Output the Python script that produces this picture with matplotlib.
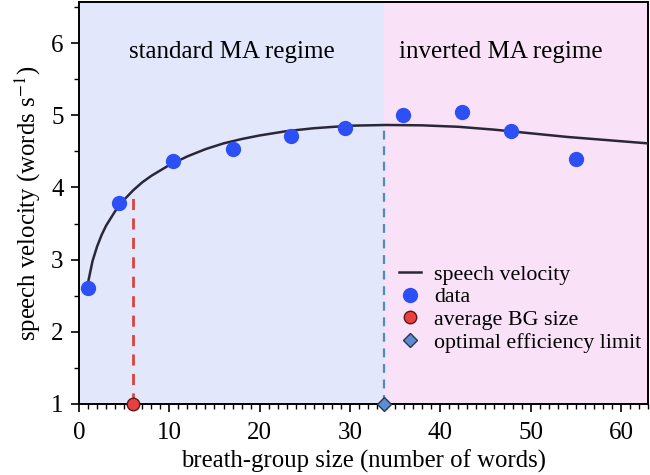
import matplotlib
matplotlib.use("Agg")
from matplotlib import pyplot as plt
from matplotlib.ticker import MultipleLocator
from matplotlib.lines import Line2D

plt.rcParams['font.family'] = ['Liberation Serif', 'DejaVu Serif']
plt.rcParams['mathtext.fontset'] = 'stix'

# measured data points
bg_size = [1.0, 4.4, 10.4, 17.0, 23.5, 29.4, 35.9, 42.4, 47.8, 55.0]
velocity = [2.61, 3.78, 4.37, 4.53, 4.71, 4.82, 5.00, 5.04, 4.78, 4.40]

# model curve
curve_x = [1.0, 1.5, 2.0, 2.5, 3.0, 4.0, 5.0, 6.0, 7.0, 8.0, 10, 12, 14, 16, 18,
           20, 23, 26, 30, 34, 38, 42, 46, 50, 54, 58, 63]
curve_y = [2.68, 2.98, 3.18, 3.34, 3.47, 3.67, 3.83, 3.96, 4.07, 4.16, 4.31, 4.43,
           4.53, 4.61, 4.67, 4.72, 4.78, 4.82, 4.855, 4.865, 4.86, 4.84, 4.80,
           4.75, 4.70, 4.66, 4.61]

avg_bg = 6.0
avg_bg_v = 3.96
opt_limit = 33.8
opt_limit_v = 4.865

x_max = 63
y_min, y_max = 1, 6.57

fig = plt.figure(figsize=(6.5, 4.75), dpi=100)
ax = fig.add_axes([0.1215, 0.1495, 0.997 - 0.1215, 0.996 - 0.1495])

# regime shading
ax.axvspan(0, opt_limit, color='#e3e7fb', zorder=0)
ax.axvspan(opt_limit, x_max, color='#f9e1f8', zorder=0)

ax.plot(curve_x, curve_y, color='#2a2838', lw=1.8, zorder=3)
ax.plot(bg_size, velocity, 'o', color='#2c50f6', ms=10, zorder=4)

ax.plot([avg_bg, avg_bg], [y_min, avg_bg_v], ls=(0, (4, 3)), color='#d9443c', lw=2, zorder=2)
ax.plot([opt_limit, opt_limit], [y_min, opt_limit_v], ls=(0, (4, 3)), color='#4a8cc8', lw=1.6, zorder=2)
ax.plot(avg_bg, y_min, 'o', color='#e8403f', mec='#5a1a1a', mew=1.0, ms=9, clip_on=False, zorder=5)
ax.plot(opt_limit, y_min, 'D', color='#5b8ed0', mec='#2a3550', mew=1.0, ms=7, clip_on=False, zorder=5)

ax.text(16.9, 5.88, 'standard MA regime', fontsize=18, ha='center', va='center')
ax.text(46.7, 5.88, 'inverted MA regime', fontsize=18, ha='center', va='center')

ax.set_xlim(0, x_max)
ax.set_ylim(y_min, y_max)
ax.xaxis.set_major_locator(MultipleLocator(10))
ax.xaxis.set_minor_locator(MultipleLocator(1))
ax.yaxis.set_major_locator(MultipleLocator(1))
ax.yaxis.set_minor_locator(MultipleLocator(0.5))
ax.tick_params(which='major', direction='out', length=6, width=1.2, labelsize=18, pad=5)
ax.tick_params(axis='x', which='major', pad=7)
ax.tick_params(which='minor', direction='out', length=3.5, width=1.0)
for sp in ax.spines.values():
    sp.set_linewidth(1.4)

ax.set_xlabel('breath-group size (number of words)', fontsize=17.8, labelpad=4)
ax.set_ylabel('speech velocity (words s$^{-1}$)', fontsize=17.8, labelpad=6)

handles = [
    Line2D([], [], color='#2a2838', lw=1.8),
    Line2D([], [], ls='', marker='o', color='#2c50f6', ms=10),
    Line2D([], [], ls='', marker='o', color='#e8403f', mec='#5a1a1a', ms=9),
    Line2D([], [], ls='', marker='D', color='#5b8ed0', mec='#2a3550', ms=7),
]
labels = ['speech velocity', 'data', 'average BG size', 'optimal efficiency limit']
ax.legend(handles, labels, loc='upper left', bbox_to_anchor=(0.535, 0.385), frameon=False,
          fontsize=15.8, handlelength=1.0, handletextpad=0.6, labelspacing=0.1,
          borderpad=0.2)

fig.savefig('out.png', dpi=100)
